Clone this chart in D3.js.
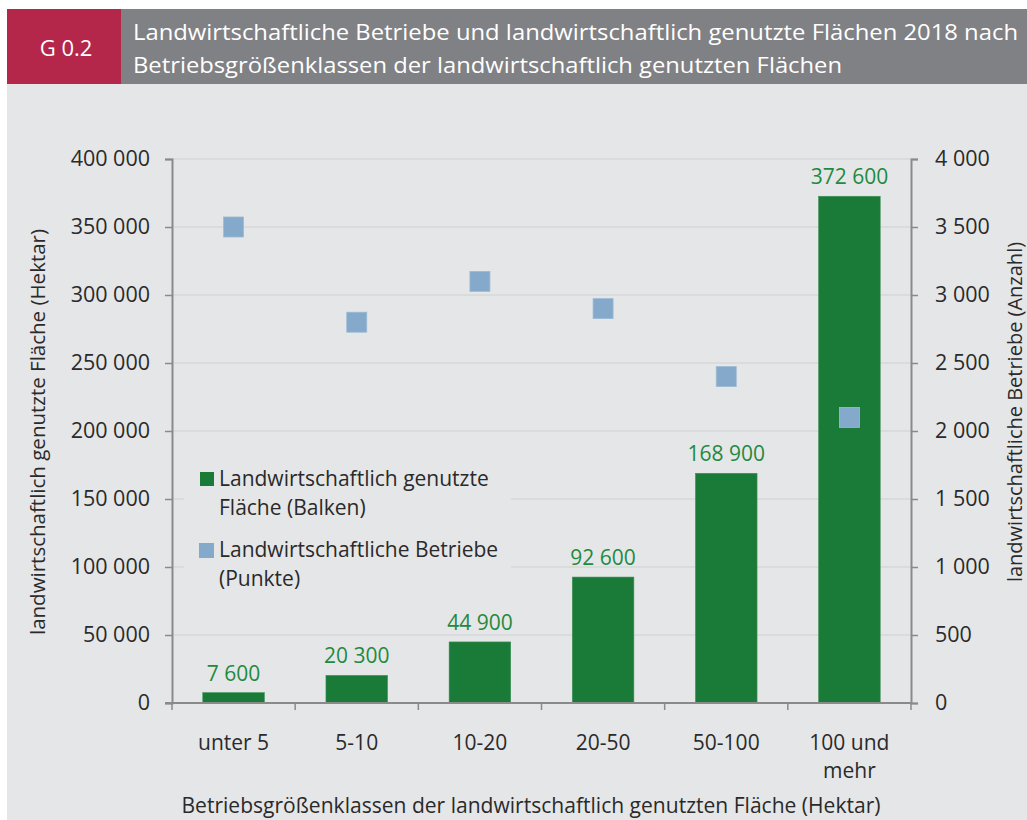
<!DOCTYPE html>
<html><head><meta charset="utf-8">
<script src="https://cdn.jsdelivr.net/npm/d3@7"></script>
<style>
html,body{margin:0;padding:0;background:#fff;}
svg{display:block;}
</style></head>
<body>
<svg id="chart" width="1027" height="820"></svg>
<script>
// ---- data ----
const categories = ["unter 5", "5-10", "10-20", "20-50", "50-100", "100 und mehr"];
const categoryLines = [["unter 5"], ["5-10"], ["10-20"], ["20-50"], ["50-100"], ["100 und", "mehr"]];
const flaeche = [7600, 20300, 44900, 92600, 168900, 372600];      // Hektar (Balken)
const betriebe = [3500, 2800, 3100, 2900, 2400, 2100];            // Anzahl (Punkte)
const leftTicks = [0, 50000, 100000, 150000, 200000, 250000, 300000, 350000, 400000];
const rightTicks = [0, 500, 1000, 1500, 2000, 2500, 3000, 3500, 4000];
const titleLines = ["Landwirtschaftliche Betriebe und landwirtschaftlich genutzte Flächen 2018 nach",
                    "Betriebsgrößenklassen der landwirtschaftlich genutzten Flächen"];
const legendItems = [
  {lines: ["Landwirtschaftlich genutzte", "Fläche (Balken)"], key: "bar"},
  {lines: ["Landwirtschaftliche Betriebe", "(Punkte)"], key: "point"}
];

const C = {
  red: "#b5264b", headGray: "#808184", panel: "#e5e6e8", green: "#1a7a38",
  label: "#1f8a3e", blue: "#84a9ca", text: "#2a2a2a", grid: "#cfd0d2", axis: "#8a8a8a"
};
const sans = "'Open Sans', 'Noto Sans', sans-serif";

const loc = d3.formatLocale({decimal: ",", thousands: " ", grouping: [3], currency: ["", " €"]});
const fmt = loc.format(",d");

const svg = d3.select("#chart");

// background
svg.append("rect").attr("x", 7).attr("y", 84).attr("width", 1020).attr("height", 736).attr("fill", C.panel);
svg.append("rect").attr("x", 7).attr("y", 9).attr("width", 114).attr("height", 75).attr("fill", C.red);
svg.append("rect").attr("x", 121).attr("y", 9).attr("width", 906).attr("height", 75).attr("fill", C.headGray);
svg.append("text").attr("x", 66).attr("y", 56).attr("text-anchor", "middle")
  .attr("fill", "#fff").attr("font-family", sans).attr("font-size", 22).text("G 0.2");
const tl = [885, 709];
titleLines.forEach((t, i) => {
  svg.append("text").attr("x", 133).attr("y", 40 + i * 33)
    .attr("fill", "#fff").attr("font-family", sans).attr("font-size", 22.5).attr("font-weight", 500)
    .attr("textLength", tl[i]).attr("lengthAdjust", "spacingAndGlyphs").text(t);
});

// scales
const x0 = 172, x1 = 911, yTop = 159, yBot = 703;
const x = d3.scaleBand().domain(categories).range([x0, x1]).paddingInner(0.5).paddingOuter(0.25);
const yL = d3.scaleLinear().domain([0, 400000]).range([yBot, yTop]);
const yR = d3.scaleLinear().domain([0, 4000]).range([yBot, yTop]);

// grid
svg.append("g").selectAll("line").data(leftTicks.filter(d => d > 0)).join("line")
  .attr("x1", x0).attr("x2", x1).attr("y1", d => yL(d)).attr("y2", d => yL(d))
  .attr("stroke", C.grid).attr("stroke-width", 1.2);

// legend box (covers grid)
const lg = svg.append("g");
lg.append("rect").attr("x", 184).attr("y", 455).attr("width", 327).attr("height", 145).attr("fill", C.panel);
legendItems.forEach((it, i) => {
  const y0 = 472 + i * 71;
  if (it.key === "bar") {
    lg.append("rect").attr("x", 200).attr("y", y0).attr("width", 14).attr("height", 14).attr("fill", C.green);
  } else {
    lg.append("rect").attr("x", 199).attr("y", y0).attr("width", 15).attr("height", 15).attr("fill", C.blue);
  }
  it.lines.forEach((l, j) => {
    lg.append("text").attr("x", 219).attr("y", y0 + 14 + j * 29)
      .attr("fill", C.text).attr("font-family", sans).attr("font-size", 21).text(l);
  });
});

// bars
svg.append("g").selectAll("rect").data(categories).join("rect")
  .attr("x", d => x(d)).attr("width", x.bandwidth())
  .attr("y", (d, i) => yL(flaeche[i])).attr("height", (d, i) => yBot - yL(flaeche[i]))
  .attr("fill", C.green).attr("stroke", "#3f9158").attr("stroke-width", 0.6);

// bar labels
svg.append("g").selectAll("text").data(categories).join("text")
  .attr("x", d => x(d) + x.bandwidth() / 2).attr("y", (d, i) => yL(flaeche[i]) - 12)
  .attr("text-anchor", "middle").attr("fill", C.label).attr("font-family", sans).attr("font-size", 21)
  .text((d, i) => fmt(flaeche[i]));

// points
const ps = 20;
svg.append("g").selectAll("rect").data(categories).join("rect")
  .attr("x", d => x(d) + x.bandwidth() / 2 - ps / 2).attr("y", (d, i) => yR(betriebe[i]) - ps / 2)
  .attr("width", ps).attr("height", ps).attr("fill", C.blue)
  .attr("stroke", "#9dbbd6").attr("stroke-width", 0.8);

// axes
function styleAxis(g) {
  g.select(".domain").attr("stroke", C.axis).attr("stroke-width", 2);
  g.selectAll(".tick line").attr("stroke", C.axis).attr("stroke-width", 1.5);
  g.selectAll(".tick text").attr("fill", C.text).attr("font-family", sans).attr("font-size", 21.5);
}
const axL = svg.append("g").attr("transform", `translate(${x0},0)`)
  .call(d3.axisLeft(yL).tickValues(leftTicks).tickFormat(fmt).tickSizeOuter(0).tickSize(7).tickPadding(15));
styleAxis(axL);
const axR = svg.append("g").attr("transform", `translate(${x1},0)`)
  .call(d3.axisRight(yR).tickValues(rightTicks).tickFormat(fmt).tickSizeOuter(0).tickSize(7).tickPadding(17));
styleAxis(axR);

// x axis: line + ticks at band boundaries
const bounds = categories.map(c => x(c) - x.step() * x.paddingInner() / 2).concat([x1]);
svg.append("line").attr("x1", x0 - 7).attr("x2", x1).attr("y1", yBot).attr("y2", yBot)
  .attr("stroke", C.axis).attr("stroke-width", 2);
svg.append("g").selectAll("line").data(bounds).join("line")
  .attr("x1", d => d).attr("x2", d => d).attr("y1", yBot).attr("y2", yBot + 7)
  .attr("stroke", C.axis).attr("stroke-width", 1.5);

// category labels
const cl = svg.append("g");
categories.forEach((c, i) => {
  categoryLines[i].forEach((l, j) => {
    cl.append("text").attr("x", x(c) + x.bandwidth() / 2).attr("y", 750 + j * 28)
      .attr("text-anchor", "middle").attr("fill", C.text).attr("font-family", sans).attr("font-size", 21).text(l);
  });
});

// axis titles
svg.append("text").attr("x", 531).attr("y", 813).attr("text-anchor", "middle")
  .attr("fill", C.text).attr("font-family", sans).attr("font-size", 21)
  .attr("textLength", 699).attr("lengthAdjust", "spacingAndGlyphs")
  .text("Betriebsgrößenklassen der landwirtschaftlich genutzten Fläche (Hektar)");
svg.append("text").attr("transform", "translate(45,432) rotate(-90)").attr("text-anchor", "middle")
  .attr("fill", C.text).attr("font-family", sans).attr("font-size", 20.5)
  .text("landwirtschaftlich genutzte Fläche (Hektar)");
svg.append("text").attr("transform", "translate(1022,412) rotate(-90)").attr("text-anchor", "middle")
  .attr("fill", C.text).attr("font-family", sans).attr("font-size", 20)
  .text("landwirtschaftliche Betriebe (Anzahl)");
</script>
</body></html>
